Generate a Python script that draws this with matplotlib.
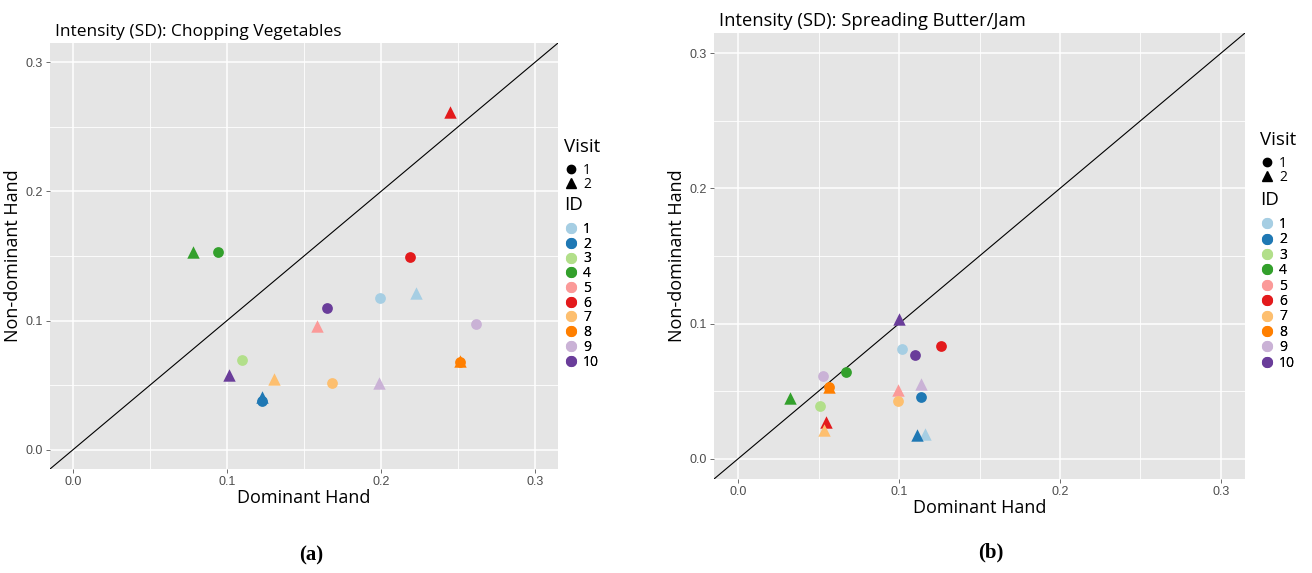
import numpy as np
import matplotlib
matplotlib.use("Agg")
import matplotlib.pyplot as plt
from matplotlib.lines import Line2D

nan = np.nan

ids = ["1", "2", "3", "4", "5", "6", "7", "8", "9", "10"]
colors = ["#A6CEE3", "#1F78B4", "#B2DF8A", "#33A02C", "#FB9A99",
          "#E31A1C", "#FDBF6F", "#FF7F00", "#CAB2D6", "#6A3D9A"]

# Chopping vegetables, visit 1 (circles) and visit 2 (triangles), by ID
chop_v1_x = [0.1996, 0.1228, 0.1097, 0.0943, nan, 0.2188, 0.1684, 0.2512, 0.2616, 0.1648]
chop_v1_y = [0.1178, 0.0379, 0.0691, 0.1528, nan, 0.1492, 0.0518, 0.0680, 0.0972, 0.1100]
chop_v2_x = [0.2229, 0.1228, nan, 0.0781, 0.1582, 0.2449, 0.1308, 0.2512, 0.1985, 0.1012]
chop_v2_y = [0.1210, 0.0410, nan, 0.1528, 0.0954, 0.2616, 0.0546, 0.0690, 0.0520, 0.0582]

# Spreading butter/jam
spread_v1_x = [0.1017, 0.1139, 0.0506, 0.0668, nan, 0.1259, 0.0994, 0.0564, 0.0525, 0.1102]
spread_v1_y = [0.0810, 0.0457, 0.0390, 0.0642, nan, 0.0832, 0.0425, 0.0533, 0.0610, 0.0770]
spread_v2_x = [0.1162, 0.1114, nan, 0.0322, 0.0996, 0.0544, 0.0533, 0.0564, 0.1135, 0.0998]
spread_v2_y = [0.0185, 0.0178, nan, 0.0452, 0.0509, 0.0272, 0.0212, 0.0533, 0.0550, 0.1032]

ticks = [0.0, 0.1, 0.2, 0.3]
minor_ticks = [0.05, 0.15, 0.25]

W, H = 1312, 573
fig = plt.figure(figsize=(W / 100, H / 100), dpi=100)

label_font = "Open Sans"
tick_font = "Liberation Sans"


def px_axes(x0, y0, x1, y1):
    return fig.add_axes([x0 / W, 1 - y1 / H, (x1 - x0) / W, (y1 - y0) / H])


def draw_panel(ax, title, v1x, v1y, v2x, v2y, title_size):
    ax.set_facecolor("#E5E5E5")
    for s in ax.spines.values():
        s.set_visible(False)
    ax.set_xlim(-0.015, 0.315)
    ax.set_ylim(-0.015, 0.315)
    ax.set_xticks(ticks)
    ax.set_yticks(ticks)
    ax.set_xticks(minor_ticks, minor=True)
    ax.set_yticks(minor_ticks, minor=True)
    ax.set_xticklabels(["0.0", "0.1", "0.2", "0.3"], fontfamily=tick_font)
    ax.set_yticklabels(["0.0", "0.1", "0.2", "0.3"], fontfamily=tick_font)
    ax.tick_params(which="major", length=3, width=0.6, color="#555555",
                   labelsize=9, labelcolor="#4D4D4D", pad=2)
    ax.tick_params(which="minor", length=0)
    ax.grid(which="major", color="white", lw=1.1)
    ax.grid(which="minor", color="white", lw=0.6)
    ax.set_axisbelow(True)
    ax.axline((0, 0), slope=1, color="black", lw=0.8, zorder=2)
    for i in range(len(ids)):
        ax.scatter(v1x[i], v1y[i], marker="o", s=60, color=colors[i],
                   linewidths=0, zorder=3)
        ax.scatter(v2x[i], v2y[i], marker="^", s=80, color=colors[i],
                   linewidths=0, zorder=3)
    ax.set_xlabel("Dominant Hand", fontfamily=label_font, fontsize=13, labelpad=1)
    ax.set_ylabel("Non-dominant Hand", fontfamily=label_font, fontsize=13, labelpad=3)
    ax.set_title(title, fontfamily=label_font, fontsize=title_size, loc="left",
                 pad=5, x=0.01)


def key_legend(ax, handles, labels, x, y_top, spacing):
    leg = ax.legend(handles, labels, loc="upper left",
                    bbox_to_anchor=(x / W, 1 - y_top / H),
                    bbox_transform=fig.transFigure, frameon=False,
                    handlelength=0.8, handletextpad=0.5, labelspacing=spacing,
                    borderpad=0, borderaxespad=0,
                    prop={"family": label_font, "size": 10})
    ax.add_artist(leg)


def draw_legends(ax, x, y_visit, y_id, spacing):
    # y_visit / y_id: centre of the legend titles in pixels
    fig.text(x / W, 1 - y_visit / H, "Visit", fontfamily=label_font,
             fontsize=13.5, va="center", ha="left")
    visit_handles = [Line2D([], [], marker="o", ls="", color="black", ms=6),
                     Line2D([], [], marker="^", ls="", color="black", ms=7)]
    key_legend(ax, visit_handles, ["1", "2"], x + 1, y_visit + 16, -0.05)
    fig.text(x / W, 1 - y_id / H, "ID", fontfamily=label_font,
             fontsize=13.5, va="center", ha="left")
    id_handles = [Line2D([], [], marker="o", ls="", color=c, ms=7) for c in colors]
    key_legend(ax, id_handles, ids, x + 1, y_id + 17, spacing)


ax1 = px_axes(50, 43, 558, 469)
draw_panel(ax1, "Intensity (SD): Chopping Vegetables",
           chop_v1_x, chop_v1_y, chop_v2_x, chop_v2_y, 12.5)
draw_legends(ax1, 564, 147, 205, -0.02)

ax2 = px_axes(714, 33, 1245, 479)
draw_panel(ax2, "Intensity (SD): Spreading Butter/Jam",
           spread_v1_x, spread_v1_y, spread_v2_x, spread_v2_y, 13.2)
draw_legends(ax2, 1260, 140, 200, 0.03)

fig.text(311 / W, 1 - 555 / H, "(a)", ha="center", va="center",
         fontsize=15, fontweight="bold", fontfamily="Liberation Serif")
fig.text(991 / W, 1 - 552 / H, "(b)", ha="center", va="center",
         fontsize=15, fontweight="bold", fontfamily="Liberation Serif")

fig.savefig("out.png", dpi=100, facecolor="white")
